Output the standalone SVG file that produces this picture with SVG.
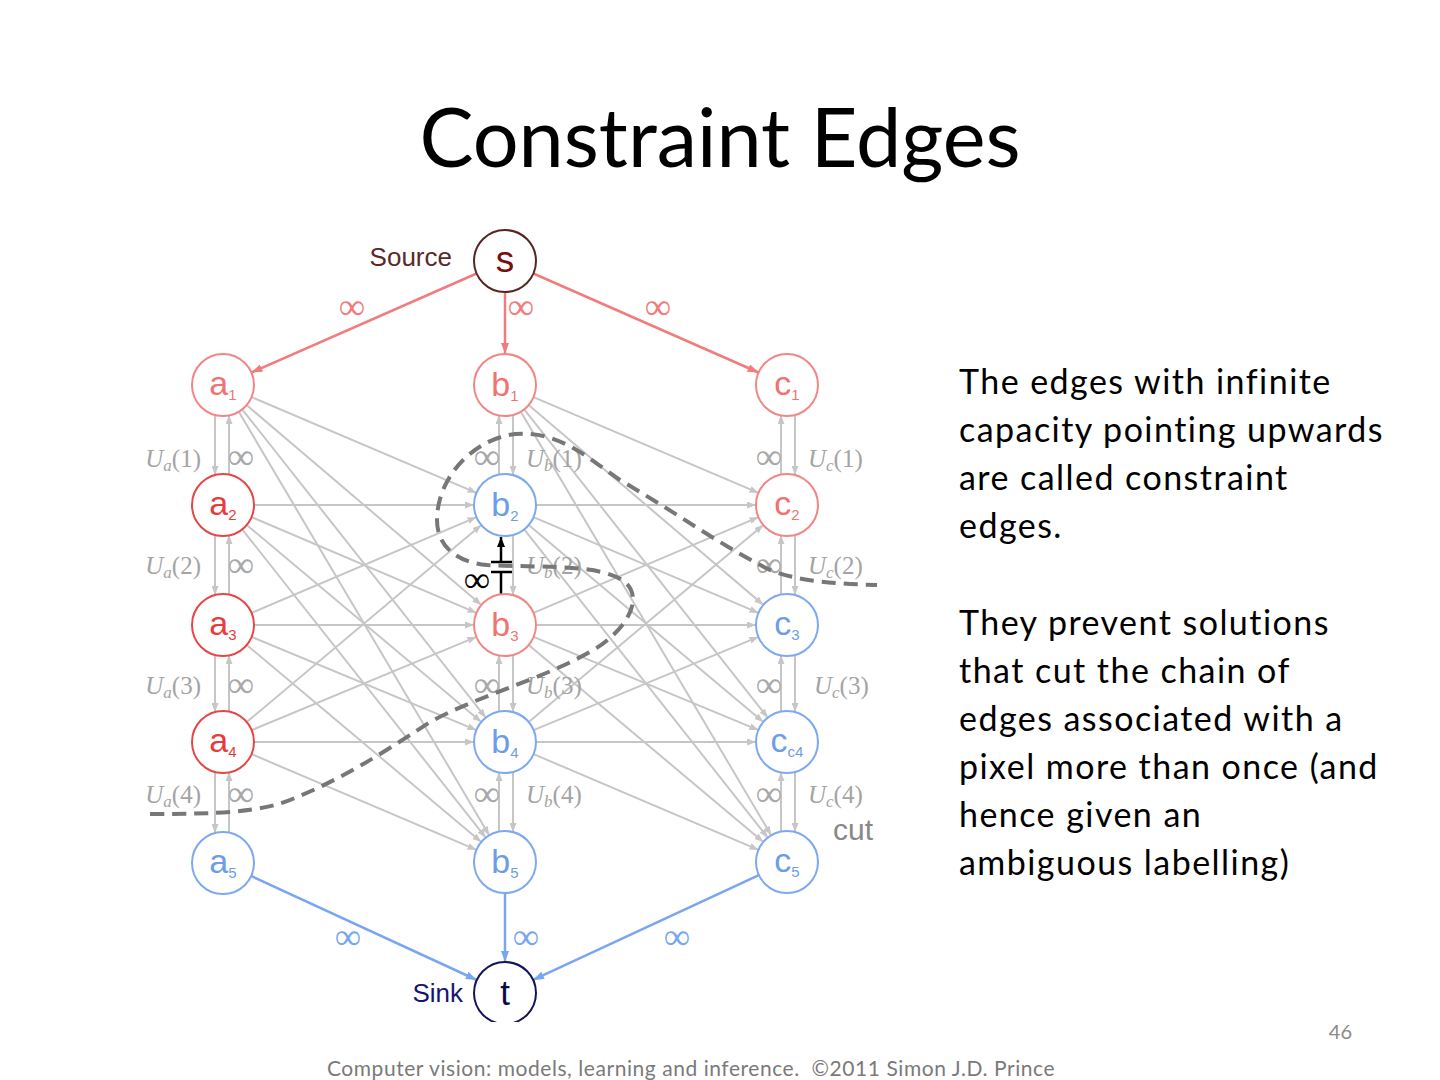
<svg xmlns="http://www.w3.org/2000/svg" width="1440" height="1080" viewBox="0 0 1440 1080">
<style>
.ge{stroke:#c6c6c6;stroke-width:2;fill:none;marker-end:url(#ag)}
.src{stroke:#f07c7c;stroke-width:2.5;fill:none;marker-end:url(#ap)}
.snk{stroke:#7aa6f0;stroke-width:2.5;fill:none;marker-end:url(#ab)}
.pink circle{fill:#fff;stroke:#f28686;stroke-width:2}
.pink text{fill:#f07272}
.red circle{fill:#fff;stroke:#e64646;stroke-width:2}
.red text{fill:#e63c3c}
.blue circle{fill:#fff;stroke:#7ea8ef;stroke-width:2}
.blue text{fill:#6e9de8}
.nl{font-family:"Liberation Sans",Arial,sans-serif;font-size:34px;text-anchor:middle}
.m{font-family:"Liberation Serif","Times New Roman",serif;font-size:25px;fill:#a4a4a4}
.inf{font-family:"Liberation Serif","Times New Roman",serif;font-size:37px;text-anchor:middle}
.body{font-family:Lato,"Open Sans",sans-serif;font-size:34px;letter-spacing:1.45px;fill:#000}
</style>
<defs>
<marker id="ag" markerWidth="9" markerHeight="7" refX="9" refY="3.5" orient="auto" markerUnits="userSpaceOnUse"><path d="M0,0 L9,3.5 L0,7 z" fill="#c6c6c6"/></marker>
<marker id="ap" markerWidth="11" markerHeight="8" refX="11" refY="4" orient="auto" markerUnits="userSpaceOnUse"><path d="M0,0 L11,4 L0,8 z" fill="#f07c7c"/></marker>
<marker id="ab" markerWidth="11" markerHeight="8" refX="11" refY="4" orient="auto" markerUnits="userSpaceOnUse"><path d="M0,0 L11,4 L0,8 z" fill="#7aa6f0"/></marker>
<marker id="ak" markerWidth="10" markerHeight="10" refX="10" refY="4" orient="auto" markerUnits="userSpaceOnUse"><path d="M0,0 L10,4 L0,8 z" fill="#000"/></marker>
<clipPath id="clipT"><rect x="0" y="0" width="1440" height="1022"/></clipPath>
</defs>
<rect width="1440" height="1080" fill="#fff"/>

<text x="720" y="167" text-anchor="middle" font-family="Lato,'Open Sans',sans-serif" font-size="81" fill="#000">Constraint Edges</text>

<g id="connectors">
  <g id="abEdges">
    <line class="ge" x1="251.5" y1="397.1" x2="476.5" y2="492.9"/>
    <line class="ge" x1="246.6" y1="405.1" x2="481.4" y2="604.9"/>
    <line class="ge" x1="242.2" y1="409.3" x2="485.8" y2="717.7"/>
    <line class="ge" x1="238.8" y1="411.7" x2="489.2" y2="835.3"/>
    <line class="ge" x1="254" y1="505" x2="474" y2="505"/>
    <line class="ge" x1="251.5" y1="517.1" x2="476.5" y2="612.9"/>
    <line class="ge" x1="246.7" y1="524.9" x2="481.3" y2="722.1"/>
    <line class="ge" x1="242.2" y1="529.3" x2="485.8" y2="837.7"/>
    <line class="ge" x1="251.5" y1="612.9" x2="476.5" y2="517.1"/>
    <line class="ge" x1="254" y1="625" x2="474" y2="625"/>
    <line class="ge" x1="251.6" y1="636.9" x2="476.4" y2="730.1"/>
    <line class="ge" x1="246.7" y1="644.9" x2="481.3" y2="842.1"/>
    <line class="ge" x1="246.7" y1="722.1" x2="481.3" y2="524.9"/>
    <line class="ge" x1="251.6" y1="730.1" x2="476.4" y2="636.9"/>
    <line class="ge" x1="254" y1="742" x2="474" y2="742"/>
    <line class="ge" x1="251.5" y1="754.1" x2="476.5" y2="849.9"/>
  </g>
  <use href="#abEdges" transform="translate(282,0)"/>

  <g id="vertA">
    <line class="ge" x1="215" y1="415" x2="215" y2="475"/>
    <line class="ge" x1="229" y1="475" x2="229" y2="415"/>
    <line class="ge" x1="215" y1="535" x2="215" y2="595"/>
    <line class="ge" x1="229" y1="595" x2="229" y2="535"/>
    <line class="ge" x1="215" y1="655" x2="215" y2="712"/>
    <line class="ge" x1="229" y1="712" x2="229" y2="655"/>
    <line class="ge" x1="215" y1="772" x2="215" y2="833"/>
    <line class="ge" x1="229" y1="833" x2="229" y2="772"/>
  </g>
  <g id="vertB">
    <line class="ge" x1="499" y1="475" x2="499" y2="415"/>
    <line class="ge" x1="513" y1="415" x2="513" y2="475"/>
    <line class="ge" x1="513" y1="535" x2="513" y2="595"/>
    <line class="ge" x1="499" y1="712" x2="499" y2="655"/>
    <line class="ge" x1="513" y1="655" x2="513" y2="712"/>
    <line class="ge" x1="499" y1="832" x2="499" y2="772"/>
    <line class="ge" x1="513" y1="772" x2="513" y2="832"/>
  </g>
  <g id="vertC">
    <line class="ge" x1="781" y1="475" x2="781" y2="415"/>
    <line class="ge" x1="795" y1="415" x2="795" y2="475"/>
    <line class="ge" x1="781" y1="595" x2="781" y2="535"/>
    <line class="ge" x1="795" y1="535" x2="795" y2="595"/>
    <line class="ge" x1="781" y1="712" x2="781" y2="655"/>
    <line class="ge" x1="795" y1="655" x2="795" y2="712"/>
    <line class="ge" x1="781" y1="832" x2="781" y2="772"/>
    <line class="ge" x1="795" y1="772" x2="795" y2="832"/>
  </g>

  <g id="constraint">
    <line x1="501" y1="594" x2="501" y2="572" stroke="#000" stroke-width="2.5"/>
    <line x1="491" y1="572" x2="512" y2="572" stroke="#000" stroke-width="2.5"/>
    <line x1="491" y1="562" x2="512" y2="562" stroke="#000" stroke-width="2.5"/>
    <line x1="501" y1="562" x2="501" y2="537" stroke="#000" stroke-width="2.5" marker-end="url(#ak)"/>
  </g>

  <line class="src" x1="476.6" y1="273.5" x2="251.4" y2="372.5"/>
  <line class="src" x1="505" y1="292" x2="505" y2="354"/>
  <line class="src" x1="533.4" y1="273.5" x2="758.6" y2="372.5"/>
  <line class="snk" x1="251.2" y1="876" x2="476.8" y2="980"/>
  <line class="snk" x1="505" y1="893" x2="505" y2="962"/>
  <line class="snk" x1="758.9" y1="875.1" x2="533.1" y2="979.9"/>
</g>

<g id="edge-labels">
  <g class="inf" fill="#f07c7c">
    <text x="352" y="319">∞</text><text x="521" y="319">∞</text><text x="658" y="319">∞</text>
  </g>
  <g class="inf" fill="#7aa6f0">
    <text x="348" y="949">∞</text><text x="526" y="949">∞</text><text x="677" y="949">∞</text>
  </g>
  <g class="inf" fill="#a8a8a8">
    <text x="241" y="469">∞</text><text x="241" y="577">∞</text><text x="241" y="697">∞</text><text x="241" y="806">∞</text>
    <text x="487" y="469">∞</text><text x="487" y="697">∞</text><text x="487" y="806">∞</text>
    <text x="769" y="469">∞</text><text x="769" y="577">∞</text><text x="769" y="697">∞</text><text x="769" y="806">∞</text>
  </g>
  <text class="inf" x="477" y="592" fill="#000">∞</text>
  <g class="m">
    <text x="201" y="467" text-anchor="end"><tspan font-style="italic">U</tspan><tspan font-style="italic" font-size="17" dy="4">a</tspan><tspan dy="-4">(1)</tspan></text>
    <text x="201" y="574" text-anchor="end"><tspan font-style="italic">U</tspan><tspan font-style="italic" font-size="17" dy="4">a</tspan><tspan dy="-4">(2)</tspan></text>
    <text x="201" y="694" text-anchor="end"><tspan font-style="italic">U</tspan><tspan font-style="italic" font-size="17" dy="4">a</tspan><tspan dy="-4">(3)</tspan></text>
    <text x="201" y="803" text-anchor="end"><tspan font-style="italic">U</tspan><tspan font-style="italic" font-size="17" dy="4">a</tspan><tspan dy="-4">(4)</tspan></text>
    <text x="526" y="467"><tspan font-style="italic">U</tspan><tspan font-style="italic" font-size="17" dy="4">b</tspan><tspan dy="-4">(1)</tspan></text>
    <text x="526" y="574"><tspan font-style="italic">U</tspan><tspan font-style="italic" font-size="17" dy="4">b</tspan><tspan dy="-4">(2)</tspan></text>
    <text x="526" y="694"><tspan font-style="italic">U</tspan><tspan font-style="italic" font-size="17" dy="4">b</tspan><tspan dy="-4">(3)</tspan></text>
    <text x="526" y="803"><tspan font-style="italic">U</tspan><tspan font-style="italic" font-size="17" dy="4">b</tspan><tspan dy="-4">(4)</tspan></text>
    <text x="808" y="467"><tspan font-style="italic">U</tspan><tspan font-style="italic" font-size="17" dy="4">c</tspan><tspan dy="-4">(1)</tspan></text>
    <text x="808" y="574"><tspan font-style="italic">U</tspan><tspan font-style="italic" font-size="17" dy="4">c</tspan><tspan dy="-4">(2)</tspan></text>
    <text x="814" y="694"><tspan font-style="italic">U</tspan><tspan font-style="italic" font-size="17" dy="4">c</tspan><tspan dy="-4">(3)</tspan></text>
    <text x="808" y="803"><tspan font-style="italic">U</tspan><tspan font-style="italic" font-size="17" dy="4">c</tspan><tspan dy="-4">(4)</tspan></text>
  </g>
</g>

<path id="cut" d="M150,814 C220,814 260,812 290,800 C340,780 380,755 430,722 C480,695 540,680 590,652 C625,632 645,600 625,582 C600,563 540,568 487,565 C455,562 437,545 437,520 C437,480 470,440 515,434 C560,430 590,460 620,480 C680,515 720,545 770,570 C800,582 840,584 877,585" fill="none" stroke="#777" stroke-width="4" stroke-dasharray="14,8"/>
<text x="833" y="840" font-family="'Liberation Sans',Arial,sans-serif" font-size="30" fill="#888">cut</text>

<g id="s">
  <circle cx="505" cy="261" r="31" fill="#fff" stroke="#5a2424" stroke-width="2"/>
  <text x="505" y="272" font-family="'Liberation Sans',Arial,sans-serif" font-size="37" text-anchor="middle" fill="#7a0c0c">s</text>
  <text x="452" y="266" font-family="'Liberation Sans',Arial,sans-serif" font-size="26" text-anchor="end" fill="#5a2a2a">Source</text>
</g>
<g id="t">
  <circle cx="505" cy="993" r="31" fill="#fff" stroke="#14145a" stroke-width="2" clip-path="url(#clipT)"/>
  <text x="505" y="1005" font-family="'Liberation Sans',Arial,sans-serif" font-size="35" text-anchor="middle" fill="#0c0c44">t</text>
  <text x="463" y="1002" font-family="'Liberation Sans',Arial,sans-serif" font-size="26" text-anchor="end" fill="#161670">Sink</text>
</g>

<g id="a1" class="pink"><circle cx="223" cy="385" r="31"/><text class="nl" x="223" y="395">a<tspan font-size="15" dy="5">1</tspan></text></g>
<g id="a2" class="red"><circle cx="223" cy="505" r="31"/><text class="nl" x="223" y="515">a<tspan font-size="15" dy="5">2</tspan></text></g>
<g id="a3" class="red"><circle cx="223" cy="625" r="31"/><text class="nl" x="223" y="635">a<tspan font-size="15" dy="5">3</tspan></text></g>
<g id="a4" class="red"><circle cx="223" cy="742" r="31"/><text class="nl" x="223" y="752">a<tspan font-size="15" dy="5">4</tspan></text></g>
<g id="a5" class="blue"><circle cx="223" cy="863" r="31"/><text class="nl" x="223" y="873">a<tspan font-size="15" dy="5">5</tspan></text></g>

<g id="b1" class="pink"><circle cx="505" cy="385" r="31"/><text class="nl" x="505" y="396">b<tspan font-size="15" dy="5">1</tspan></text></g>
<g id="b2" class="blue"><circle cx="505" cy="505" r="31"/><text class="nl" x="505" y="516">b<tspan font-size="15" dy="5">2</tspan></text></g>
<g id="b3" class="pink"><circle cx="505" cy="625" r="31"/><text class="nl" x="505" y="636">b<tspan font-size="15" dy="5">3</tspan></text></g>
<g id="b4" class="blue"><circle cx="505" cy="742" r="31"/><text class="nl" x="505" y="753">b<tspan font-size="15" dy="5">4</tspan></text></g>
<g id="b5" class="blue"><circle cx="505" cy="862" r="31"/><text class="nl" x="505" y="873">b<tspan font-size="15" dy="5">5</tspan></text></g>

<g id="c1" class="pink"><circle cx="787" cy="385" r="31"/><text class="nl" x="787" y="395">c<tspan font-size="15" dy="5">1</tspan></text></g>
<g id="c2" class="pink"><circle cx="787" cy="505" r="31"/><text class="nl" x="787" y="515">c<tspan font-size="15" dy="5">2</tspan></text></g>
<g id="c3" class="blue"><circle cx="787" cy="625" r="31"/><text class="nl" x="787" y="635">c<tspan font-size="15" dy="5">3</tspan></text></g>
<g id="c4" class="blue"><circle cx="787" cy="742" r="31"/><text class="nl" x="787" y="752">c<tspan font-size="15" dy="5">c4</tspan></text></g>
<g id="c5" class="blue"><circle cx="787" cy="862" r="31"/><text class="nl" x="787" y="872">c<tspan font-size="15" dy="5">5</tspan></text></g>

<g id="description" class="body">
  <text x="959" y="394">The edges with infinite</text>
  <text x="959" y="442">capacity pointing upwards</text>
  <text x="959" y="490">are called constraint</text>
  <text x="959" y="538">edges.</text>
  <text x="959" y="635">They prevent solutions</text>
  <text x="959" y="683">that cut the chain of</text>
  <text x="959" y="731">edges associated with a</text>
  <text x="959" y="779">pixel more than once (and</text>
  <text x="959" y="827">hence given an</text>
  <text x="959" y="875">ambiguous labelling)</text>
</g>

<text x="1352" y="1039" text-anchor="end" font-family="Lato,'Open Sans',sans-serif" font-size="20" fill="#8a8a8a">46</text>
<text x="691" y="1076" text-anchor="middle" font-family="Lato,'Open Sans',sans-serif" font-size="21" letter-spacing="0.55" fill="#7a7a7a" xml:space="preserve">Computer vision: models, learning and inference.  ©2011 Simon J.D. Prince</text>
</svg>
